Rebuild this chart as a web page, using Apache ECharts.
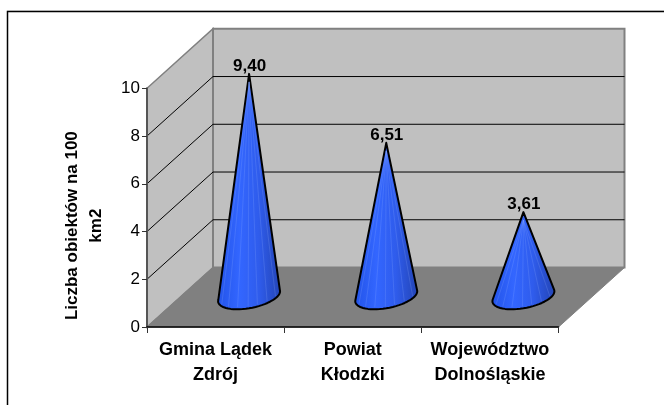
<!DOCTYPE html>
<html><head><meta charset="utf-8">
<style>html,body{margin:0;padding:0;background:#fff}#c{width:664px;height:405px}</style>
<script src="https://cdn.jsdelivr.net/npm/echarts@6/dist/echarts.min.js"></script>
</head><body><div id="c"></div>
<script>
const categories = ['Gmina Lądek\nZdrój', 'Powiat\nKłodzki', 'Województwo\nDolnośląskie'];
const values = [9.40, 6.51, 3.61];
const valueLabels = ['9,40', '6,51', '3,61'];
const gridValues = [2, 4, 6, 8];
const axisTitle = 'Liczba obiektów na 100\nkm2';

const DX = 66, DY = -59.5;
const chart = echarts.init(document.getElementById('c'), null, {renderer: 'canvas'});

function wallsRender(params, api) {
  const c = params.coordSys;
  const l = c.x, r = c.x + c.width, t = c.y, b = c.y + c.height;
  const gray = '#808080';
  return {type: 'group', children: [
    {type: 'polygon', shape: {points: [[l, b], [l, t], [l + DX, t + DY], [l + DX, b + DY]]},
      style: {fill: '#c0c0c0', stroke: gray, lineWidth: 1.5}},
    {type: 'polygon', shape: {points: [[l + DX, b + DY], [l + DX, t + DY], [r + DX, t + DY], [r + DX, b + DY]]},
      style: {fill: '#c0c0c0', stroke: gray, lineWidth: 2}},
    {type: 'polygon', shape: {points: [[l, b], [r, b], [r + DX, b + DY], [l + DX, b + DY]]},
      style: {fill: '#808080', stroke: gray, lineWidth: 1}}
  ]};
}
function gridRender(params, api) {
  const c = params.coordSys;
  const y = api.coord([0, api.value(1)])[1];
  const l = c.x, r = c.x + c.width;
  return {type: 'polyline', shape: {points: [[l, y], [l + DX, y + DY], [r + DX, y + DY]]},
    style: {fill: null, stroke: '#000', lineWidth: 1}};
}
function coneRender(params, api) {
  const i = api.value(0);
  const p = api.coord([i, api.value(1)]);
  const p0 = api.coord([i, 0]);
  const tip = [p[0] + DX / 2 + 0.5, p[1] + DY / 2 + 1];
  const cx = p0[0] + DX / 2 + 0.5, cy = p0[1] + DY / 2 - 1;
  const ell = t => [cx + 31 * Math.cos(t), cy + 12 * Math.sin(t) - 5 * Math.cos(t)];
  const pts = [tip];
  for (let k = 0; k <= 32; k++) pts.push(ell(-0.12 + (Math.PI + 0.24) * k / 32));
  const children = [{type: 'polygon', shape: {points: pts},
    style: {
      fill: new echarts.graphic.LinearGradient(0, 0, 1, 0, [
        {offset: 0, color: '#2253e8'}, {offset: 0.35, color: '#3366ff'},
        {offset: 0.65, color: '#2f5cec'}, {offset: 1, color: '#2344b4'}]),
      stroke: '#000', lineWidth: 2, lineJoin: 'round'}}];
  [0.55, 0.95, 1.3, 1.6, 1.95, 2.3, 2.65].forEach(t => {
    const e = ell(t);
    children.push({type: 'line', shape: {x1: tip[0], y1: tip[1] + 8, x2: e[0], y2: e[1] - 2},
      style: {stroke: 'rgba(150,180,255,0.2)', lineWidth: 1}});
  });
  children.push({type: 'text', style: {
    text: valueLabels[params.dataIndex], x: tip[0] + 0.5, y: tip[1] - 8,
    align: 'center', verticalAlign: 'middle',
    font: 'bold 17px "Liberation Sans", Arial, sans-serif', fill: '#000'}});
  return {type: 'group', children};
}

chart.setOption({
  animation: false,
  backgroundColor: '#fff',
  textStyle: {fontFamily: '"Liberation Sans", Arial, sans-serif'},
  grid: {left: 147, right: 105.5, top: 88.3, bottom: 78},
  graphic: [{type: 'polyline', silent: true,
    shape: {points: [[7.5, 405], [7.5, 11.5], [664, 11.5]]},
    style: {fill: null, stroke: '#000', lineWidth: 1.5}},
    {type: 'line', silent: true, shape: {x1: 7, y1: 10.5, x2: 664, y2: 10.5},
    style: {stroke: '#b0b0b0', lineWidth: 1}}],
  xAxis: {type: 'category', data: categories, z: 3,
    axisLine: {lineStyle: {color: '#000', width: 1.5}},
    axisTick: {show: true, length: 6, alignWithLabel: false, lineStyle: {color: '#333', width: 1}},
    axisLabel: {interval: 0, color: '#000', fontSize: 18, fontWeight: 'bold', lineHeight: 25, margin: 11},
    splitLine: {show: false}},
  yAxis: {type: 'value', min: 0, max: 10, interval: 2, z: 3,
    name: axisTitle, nameLocation: 'middle', nameGap: 39, nameRotate: 90,
    nameTextStyle: {color: '#000', fontSize: 17, fontWeight: 'bold', lineHeight: 24, padding: [0, 36, 0, 0]},
    axisLine: {show: true, lineStyle: {color: '#555', width: 2}},
    axisTick: {show: true, length: 5, lineStyle: {color: '#333', width: 1}},
    axisLabel: {color: '#000', fontSize: 17, margin: 7},
    splitLine: {show: false}},
  series: [
    {type: 'custom', z: 1, silent: true, renderItem: wallsRender, clip: false, data: [[0, 10]]},
    {type: 'custom', z: 2, silent: true, renderItem: gridRender, clip: false,
      data: gridValues.map(v => [0, v])},
    {type: 'custom', z: 5, silent: true, renderItem: coneRender, clip: false,
      data: values.map((v, i) => [i, v])}
  ]
});
</script></body></html>
